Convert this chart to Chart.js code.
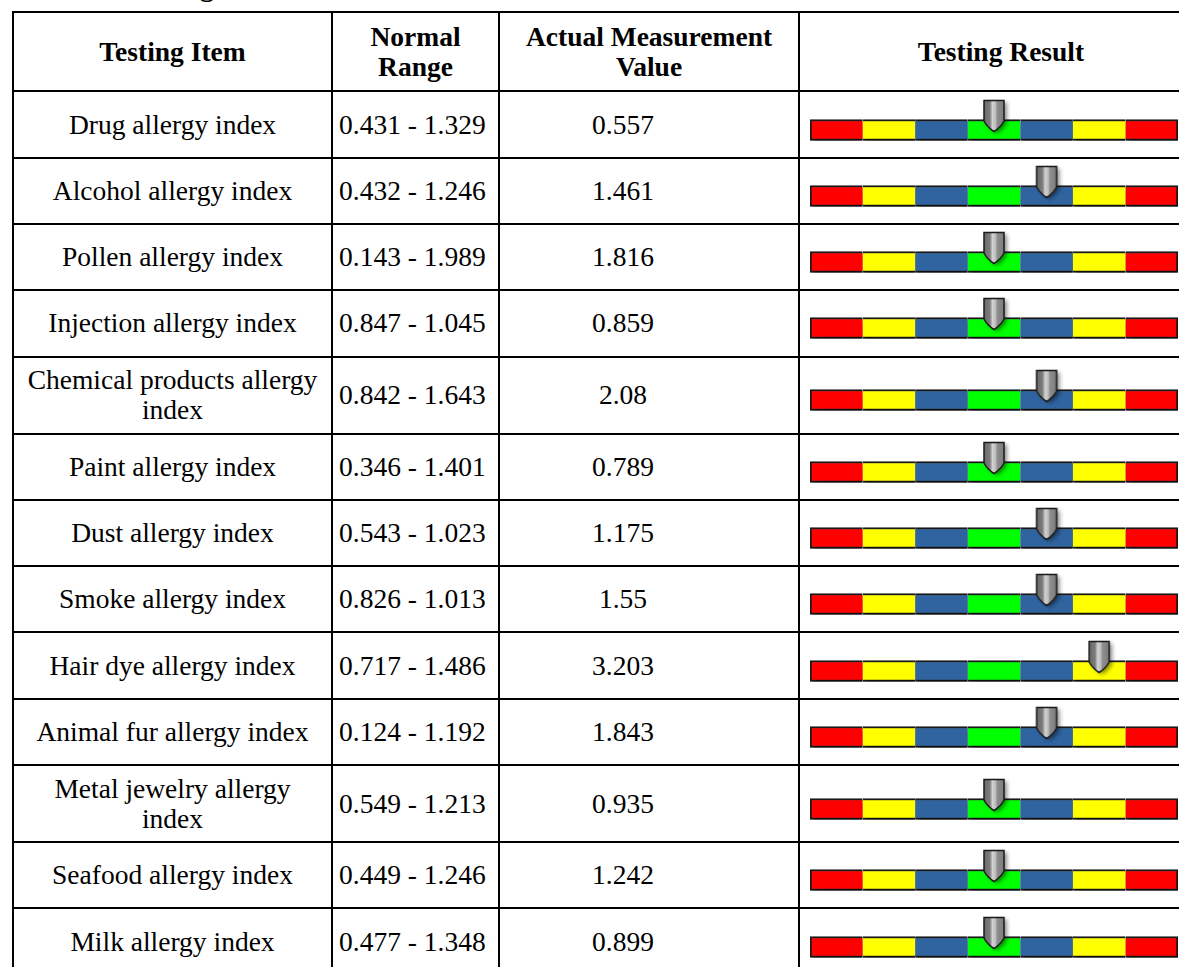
<!DOCTYPE html>
<html>
<head>
<meta charset="utf-8">
<script src="https://cdn.jsdelivr.net/npm/chart.js@4.4.1/dist/chart.umd.min.js"></script>
<style>
html, body { margin: 0; padding: 0; background: #fff; overflow: hidden; width: 1179px; height: 967px; }
body { position: relative; font-family: "Liberation Serif", "Times New Roman", serif; color: #000; }
#titulo { position: absolute; left: 128px; top: -27px; font-size: 28px; font-weight: bold; line-height: 28px; white-space: nowrap; }
table { position: absolute; left: 12px; top: 11px; border-collapse: collapse; table-layout: fixed; width: 1190px; }
th, td { border: 2px solid #000; text-align: center; vertical-align: middle; font-size: 27.5px; line-height: 30px; padding: 0 8px; }
th { height: 77.4px; font-weight: bold; }
td { height: 64.3px; }
td .txt { padding: 7.5px 0; }
td.rango { text-align: left; padding-left: 6px; }
td.valor { padding-right: 60px; }
canvas.barra { position: absolute; left: 805px; }
</style>
</head>
<body>
<div id="titulo">Testing Results</div>
<table id="tabla">
  <colgroup><col style="width:319px"><col style="width:167px"><col style="width:300px"><col style="width:404px"></colgroup>
  <thead>
    <tr><th>Testing Item</th><th>Normal Range</th><th>Actual Measurement Value</th><th>Testing Result</th></tr>
  </thead>
  <tbody id="cuerpo"></tbody>
</table>

<script>
const items = [
    "Drug allergy index", "Alcohol allergy index", "Pollen allergy index",
    "Injection allergy index", "Chemical products allergy index", "Paint allergy index",
    "Dust allergy index", "Smoke allergy index", "Hair dye allergy index",
    "Animal fur allergy index", "Metal jewelry allergy index", "Seafood allergy index",
    "Milk allergy index"
];
const rangos = [
    "0.431 - 1.329", "0.432 - 1.246", "0.143 - 1.989", "0.847 - 1.045", "0.842 - 1.643",
    "0.346 - 1.401", "0.543 - 1.023", "0.826 - 1.013", "0.717 - 1.486", "0.124 - 1.192",
    "0.549 - 1.213", "0.449 - 1.246", "0.477 - 1.348"
];
const medidas = [
    "0.557", "1.461", "1.816", "0.859", "2.08", "0.789", "1.175",
    "1.55", "3.203", "1.843", "0.935", "1.242", "0.899"
];
// posicion del marcador sobre la escala de 7 zonas (centro de la zona)
const marcador = [3.5, 4.5, 3.5, 3.5, 4.5, 3.5, 4.5, 4.5, 5.5, 4.5, 3.5, 3.5, 3.5];

const zonas = [1, 1, 1, 1, 1, 1, 1];
const coloresZona = ["#ff0000", "#ffff00", "#3064a0", "#00ff00", "#3064a0", "#ffff00", "#ff0000"];

// filas de la tabla
const cuerpo = document.getElementById("cuerpo");
const filas = [];
items.forEach((item, i) => {
    const fila = document.createElement("tr");
    fila.innerHTML = `
        <td><div class="txt">${item}</div></td>
        <td class="rango">${rangos[i]}</td>
        <td class="valor">${medidas[i]}</td>
        <td></td>
    `;
    cuerpo.appendChild(fila);
    filas.push(fila);
});

// marcador gris tipo lapiz
function crearMarcador() {
    const c = document.createElement("canvas");
    c.width = 34;
    c.height = 64;
    const g = c.getContext("2d");
    const cx = 17, cy = 32;
    const arriba = cy - 29.5, hombro = cy - 9, punta = cy + 1.5;
    const izq = cx - 10, der = cx + 10;

    g.beginPath();
    g.moveTo(izq, arriba);
    g.lineTo(der, arriba);
    g.lineTo(der, hombro);
    g.quadraticCurveTo(der - 3, hombro + 6, cx, punta);
    g.quadraticCurveTo(izq + 3, hombro + 6, izq, hombro);
    g.closePath();

    g.save();
    g.shadowColor = "rgba(0,0,0,0.45)";
    g.shadowBlur = 4;
    g.shadowOffsetX = 3;
    g.shadowOffsetY = 2;
    const grad = g.createLinearGradient(izq, 0, der, 0);
    grad.addColorStop(0, "#6a6a6a");
    grad.addColorStop(0.3, "#7c7c7c");
    grad.addColorStop(0.42, "#d2d2d2");
    grad.addColorStop(0.58, "#bdbdbd");
    grad.addColorStop(0.66, "#8e8e8e");
    grad.addColorStop(1, "#7c7c7c");
    g.fillStyle = grad;
    g.fill();
    g.restore();

    g.lineWidth = 1.5;
    g.strokeStyle = "#1a1a1a";
    g.stroke();
    return c;
}
const imagenMarcador = crearMarcador();

// sombra debajo de las barras
const sombra = {
    id: "sombra",
    beforeDatasetDraw(chart, args) {
        const ctx = chart.ctx;
        ctx.save();
        if (args.meta.type === "bar") {
            ctx.shadowColor = "rgba(0,0,0,0.45)";
            ctx.shadowBlur = 4;
            ctx.shadowOffsetX = 2;
            ctx.shadowOffsetY = 4;
        }
    },
    afterDatasetDraw(chart) {
        chart.ctx.restore();
    }
};

function crearBarra(i) {
    const canvas = document.createElement("canvas");
    canvas.className = "barra";
    canvas.width = 380;
    canvas.height = 62;
    const caja = filas[i].getBoundingClientRect();
    canvas.style.top = (caja.top + caja.height / 2 + 5 - 31) + "px";
    document.body.appendChild(canvas);

    const datasets = zonas.map((ancho, z) => ({
        type: "bar",
        data: [ancho],
        backgroundColor: coloresZona[z],
        borderColor: "#1a1a1a",
        borderWidth: { top: 2, bottom: 2, left: z === 0 ? 2 : 0, right: z === zonas.length - 1 ? 2 : 0 },
        borderSkipped: false,
        barThickness: 21,
        order: 1
    }));

    datasets.push({
        type: "line",
        indexAxis: "y",
        data: [{ x: marcador[i], y: items[i] }],
        showLine: false,
        pointStyle: imagenMarcador,
        pointRadius: 10,
        pointHoverRadius: 10,
        order: 0
    });

    new Chart(canvas.getContext("2d"), {
        type: "bar",
        data: { labels: [items[i]], datasets: datasets },
        options: {
            indexAxis: "y",
            responsive: false,
            maintainAspectRatio: false,
            animation: false,
            devicePixelRatio: 1,
            layout: { autoPadding: false, padding: { left: 5, right: 7, top: 0, bottom: 0 } },
            plugins: { legend: { display: false }, tooltip: { enabled: false } },
            scales: {
                x: { stacked: true, min: 0, max: zonas.length, display: false },
                y: { stacked: true, display: false }
            }
        },
        plugins: [sombra]
    });
}

items.forEach((item, i) => crearBarra(i));
</script>
</body>
</html>
